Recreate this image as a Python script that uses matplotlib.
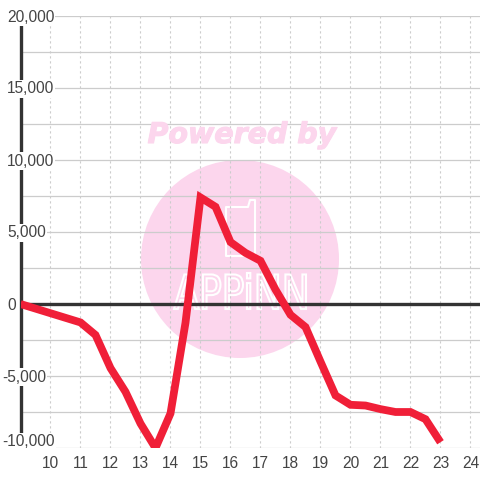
import matplotlib
matplotlib.use('Agg')
import matplotlib.pyplot as plt
from matplotlib.patches import Circle, PathPatch, Polygon
from matplotlib.textpath import TextPath
from matplotlib.font_manager import FontProperties
from matplotlib.transforms import Affine2D
import matplotlib.patheffects as pe

hours = [9, 9.5, 10, 10.5, 11, 11.5, 12, 12.5, 13, 13.5, 14, 14.5, 15, 15.5, 16, 16.5,
         17, 17.5, 18, 18.5, 19, 19.5, 20, 20.5, 21, 21.5, 22, 22.5, 23]
values = [0, -320, -640, -960, -1280, -2150, -4450, -6100, -8300, -10000, -7600, -1300,
          7400, 6750, 4300, 3550, 3000, 1000, -750, -1600, -4000, -6350, -7000, -7050,
          -7300, -7500, -7500, -8000, -9600]
x_ticks = list(range(10, 25))
y_major = [-10000, -5000, 0, 5000, 10000, 15000, 20000]
y_minor = [-7500, -2500, 2500, 7500, 12500, 17500]

PINK = '#fcd6ed'
RED = '#f01f38'
DARK = '#333333'
LABEL = '#444444'
GRID = '#cccccc'

plt.rcParams['font.family'] = ['Liberation Sans', 'DejaVu Sans']

fig = plt.figure(figsize=(4.8, 4.8), dpi=100)
to_px = Affine2D().scale(1, -1).translate(0, 480)  # pixels measured from the top left

# watermark sits under the transparent axes
fig.add_artist(Circle((240, 259), 99, transform=to_px, fc=PINK, ec='none', zorder=0))
fig.text(242 / 480, 1 - 135 / 480, 'Powered by', color=PINK, fontsize=20.5, fontweight='bold',
         fontstyle='italic', family='DejaVu Sans', ha='center', va='center', zorder=0,
         path_effects=[pe.withStroke(linewidth=0.8, foreground=PINK)])
phone = [(226, 207), (248, 207), (250, 200), (255, 200), (255, 256), (226, 256)]
fig.add_artist(Polygon(phone, closed=True, transform=to_px, fc='none', ec='white', lw=1.5,
                       joinstyle='round', zorder=0))

logo = TextPath((0, 0), 'APPiNN', size=50, prop=FontProperties(family='DejaVu Sans'))
box = logo.get_extents()
logo_tf = (Affine2D().translate(-box.x0, -box.y0)
           .scale(132 / box.width, 36 / box.height)
           .translate(174, 480 - 309))
fig.add_artist(PathPatch(logo, transform=logo_tf, fc=PINK, ec='white', lw=1.5, zorder=0))

ax = fig.add_axes([20.5 / 480, 32 / 480, 459.5 / 480, 432 / 480])
ax.patch.set_alpha(0)
ax.set_xlim(9, 24.317)
ax.set_ylim(-10000, 20000)

for s in ['top', 'right', 'bottom']:
    ax.spines[s].set_visible(False)
ax.spines['left'].set_color(DARK)
ax.spines['left'].set_linewidth(2.4)
ax.spines['left'].set_zorder(1)

ax.set_xticks(x_ticks)
ax.set_yticks(y_major)
ax.set_yticks(y_minor, minor=True)
ax.set_yticklabels([])
ax.tick_params(axis='both', which='both', length=0)
ax.tick_params(axis='x', labelsize=11.2, labelcolor=LABEL, pad=5.5)

ax.grid(True, axis='y', which='both', color=GRID, lw=0.9, zorder=1)
ax.grid(True, axis='x', color=GRID, lw=0.8, ls=(0, (2, 2.5)), zorder=1)
ax.set_axisbelow(True)

ax.axhline(0, color=DARK, lw=2.4, zorder=2)
ax.plot(hours, values, color=RED, lw=5.6, solid_joinstyle='miter', solid_capstyle='butt', zorder=3)

# y labels are left aligned and carry a white box that cuts the axis line
for v in y_major:
    dx = -18.5 if v < 0 else -13.5
    dy = 6 if v == -10000 else -1
    ax.annotate(f'{v:,}', xy=(0, v), xycoords=ax.get_yaxis_transform(), xytext=(dx, dy),
                textcoords='offset pixels', ha='left', va='center', fontsize=11.2, color=LABEL,
                annotation_clip=False, zorder=2.5,
                bbox=dict(fc='white', ec='none', pad=0.8))

fig.savefig('out.png', dpi=100)
